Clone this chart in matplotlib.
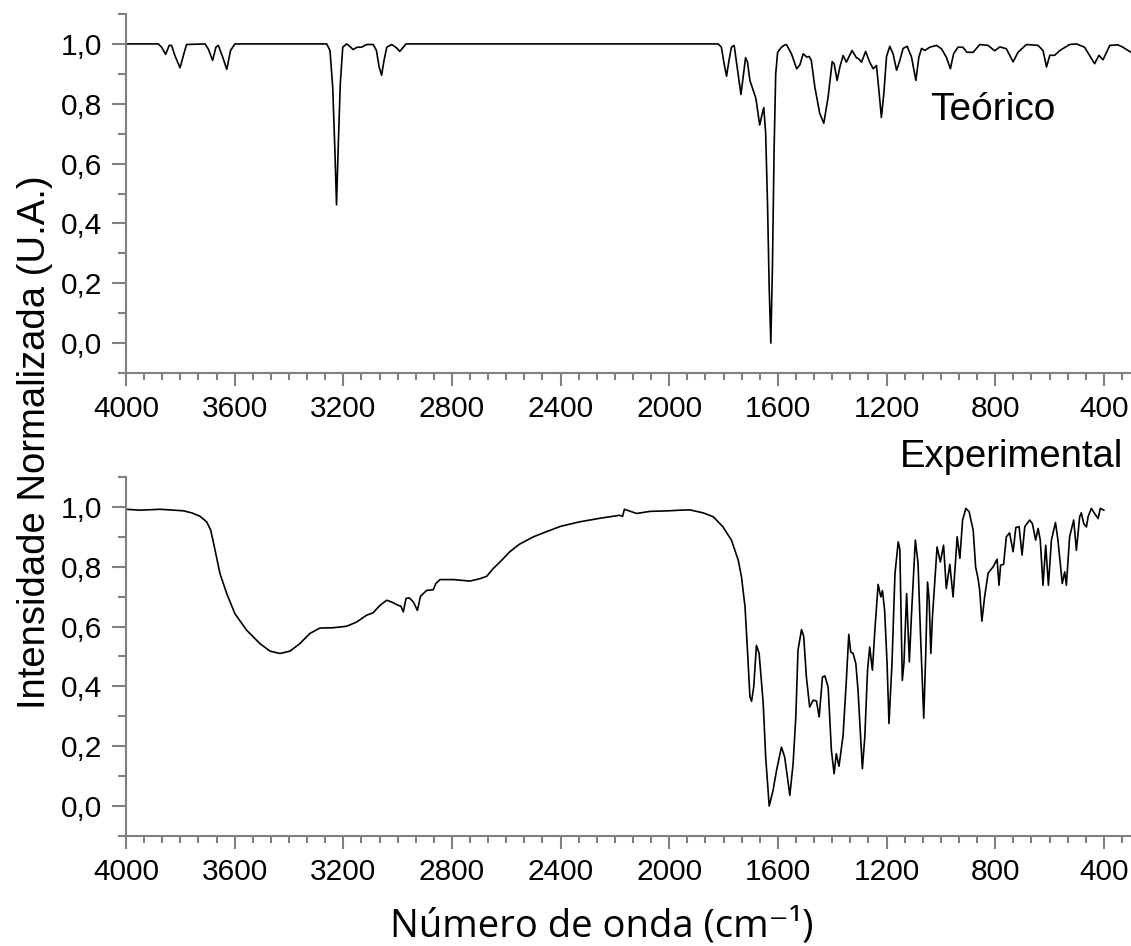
import matplotlib
matplotlib.use("Agg")
import matplotlib.pyplot as plt
from matplotlib.ticker import MultipleLocator, AutoMinorLocator, FuncFormatter

# Calculated spectrum (wavenumber in cm-1, normalised intensity)
teo_wn = [4000, 3881, 3869, 3854, 3841, 3832, 3820, 3801, 3787, 3777,
          3709, 3697, 3681, 3669, 3660, 3644, 3629, 3615, 3599,
          3261, 3249, 3239, 3231, 3225, 3219, 3211, 3202, 3188, 3176, 3164, 3149,
          3133, 3114, 3090, 3078, 3068, 3059, 3050, 3040, 3022, 3004, 2992, 2979, 2969,
          1820, 1808, 1798, 1789, 1780, 1771, 1761, 1750, 1736, 1728, 1719, 1712,
          1703, 1691, 1681, 1673, 1667, 1659, 1652, 1645, 1638, 1632, 1626, 1620,
          1614, 1608, 1601, 1587, 1574, 1568, 1550, 1531, 1519, 1507, 1494, 1485,
          1477, 1464, 1446, 1431, 1415, 1400, 1393, 1382, 1372, 1360, 1348, 1327,
          1311, 1302, 1292, 1277, 1262, 1249, 1237, 1227, 1219, 1210, 1200, 1188,
          1176, 1163, 1151, 1139, 1124, 1108, 1092, 1081, 1071, 1059, 1041, 1016,
          998, 980, 965, 953, 937, 919, 904, 881, 857, 826, 802, 783, 759, 734,
          716, 685, 642, 624, 611, 599, 581, 562, 526, 501, 471, 434, 418, 403,
          378, 348, 330, 300]
teo_val = [1.0, 1.0, 0.989, 0.965, 0.995, 0.995, 0.961, 0.92, 0.967, 0.998,
           1.0, 0.983, 0.945, 0.989, 0.995, 0.956, 0.915, 0.978, 1.0,
           1.0, 0.978, 0.856, 0.646, 0.462, 0.646, 0.867, 0.989, 1.0, 0.992, 0.981, 0.989,
           0.989, 0.998, 0.998, 0.978, 0.923, 0.895, 0.945, 0.989, 0.998, 0.987, 0.975, 0.989, 1.0,
           1.0, 0.989, 0.934, 0.892, 0.945, 0.989, 0.995, 0.923, 0.831, 0.89, 0.954, 0.94,
           0.878, 0.845, 0.818, 0.768, 0.729, 0.762, 0.787, 0.702, 0.459, 0.183, 0.0, 0.26,
           0.646, 0.9, 0.972, 0.989, 0.997, 0.997, 0.967, 0.917, 0.93, 0.967, 0.956, 0.958,
           0.945, 0.856, 0.768, 0.735, 0.823, 0.941, 0.934, 0.878, 0.922, 0.961, 0.939, 0.978,
           0.954, 0.95, 0.939, 0.975, 0.939, 0.917, 0.928, 0.834, 0.754, 0.834, 0.958, 0.992,
           0.967, 0.912, 0.945, 0.985, 0.992, 0.956, 0.878, 0.956, 0.985, 0.978, 0.989, 0.995,
           0.984, 0.956, 0.917, 0.967, 0.989, 0.989, 0.972, 0.972, 0.998, 0.995, 0.977, 0.99, 0.984, 0.94,
           0.972, 0.998, 0.995, 0.978, 0.923, 0.962, 0.962, 0.978, 0.998, 1.0, 0.989, 0.934, 0.962, 0.947,
           0.995, 0.997, 0.989, 0.972]

# Measured FTIR spectrum
exp_wn = [4000, 3948, 3875, 3789, 3758, 3728, 3703, 3688, 3672, 3654, 3629,
          3599, 3556, 3507, 3470, 3433, 3396, 3360, 3323, 3286, 3237, 3188, 3151,
          3114, 3090, 3065, 3040, 3022, 2998, 2988, 2979, 2969, 2957, 2942, 2927,
          2916, 2893, 2869, 2859, 2844, 2795, 2734, 2697, 2672, 2648, 2623, 2587,
          2552, 2500, 2450, 2400, 2330, 2255, 2182, 2172, 2165, 2120, 2071, 2000,
          1961, 1924, 1875, 1838, 1802, 1771, 1746, 1734, 1721, 1712, 1703, 1697,
          1689, 1679, 1669, 1654, 1645, 1632, 1618, 1605, 1587, 1575, 1556, 1544,
          1534, 1526, 1513, 1505, 1495, 1483, 1470, 1458, 1448, 1436, 1427, 1415,
          1403, 1393, 1385, 1375, 1360, 1348, 1339, 1332, 1323, 1313, 1305, 1289,
          1280, 1270, 1262, 1252, 1243, 1231, 1221, 1215, 1207, 1198, 1191, 1180,
          1169, 1157, 1151, 1142, 1136, 1126, 1116, 1108, 1094, 1084, 1075, 1063,
          1056, 1049, 1043, 1037, 1031, 1023, 1014, 1002, 990, 980, 967, 955, 940,
          930, 920, 908, 896, 881, 872, 863, 857, 849, 839, 826, 808, 793, 786,
          780, 769, 759, 747, 734, 724, 712, 701, 691, 673, 663, 651, 642, 634,
          624, 614, 604, 593, 578, 569, 553, 544, 538, 526, 511, 501, 489, 483,
          474, 464, 458, 446, 434, 421, 413, 400]
exp_val = [0.992, 0.989, 0.992, 0.987, 0.98, 0.969, 0.95, 0.922, 0.855, 0.777, 0.71,
           0.643, 0.588, 0.543, 0.518, 0.51, 0.518, 0.543, 0.577, 0.595, 0.596, 0.601, 0.615,
           0.638, 0.646, 0.671, 0.688, 0.682, 0.671, 0.668, 0.649, 0.694, 0.696, 0.682, 0.654,
           0.701, 0.721, 0.723, 0.744, 0.757, 0.757, 0.752, 0.76, 0.768, 0.794, 0.816, 0.85,
           0.875, 0.9, 0.918, 0.935, 0.95, 0.962, 0.972, 0.968, 0.992, 0.978, 0.985, 0.987,
           0.989, 0.99, 0.98, 0.967, 0.933, 0.889, 0.822, 0.766, 0.666, 0.521, 0.365, 0.35,
           0.398, 0.537, 0.51, 0.342, 0.164, 0.0, 0.052, 0.119, 0.197, 0.164, 0.036, 0.142,
           0.298, 0.521, 0.59, 0.567, 0.431, 0.331, 0.354, 0.351, 0.298, 0.431, 0.435, 0.398,
           0.186, 0.108, 0.175, 0.133, 0.236, 0.42, 0.574, 0.515, 0.51, 0.476, 0.387, 0.125,
           0.231, 0.454, 0.532, 0.454, 0.588, 0.741, 0.699, 0.72, 0.654, 0.476, 0.276, 0.476,
           0.777, 0.883, 0.858, 0.42, 0.476, 0.71, 0.482, 0.643, 0.889, 0.811, 0.574, 0.294,
           0.498, 0.749, 0.687, 0.51, 0.632, 0.744, 0.866, 0.816, 0.872, 0.727, 0.808, 0.699, 0.9,
           0.828, 0.956, 0.995, 0.984, 0.922, 0.799, 0.76, 0.721, 0.618, 0.699, 0.779, 0.799, 0.825, 0.738,
           0.805, 0.808, 0.9, 0.913, 0.85, 0.931, 0.934, 0.839, 0.934, 0.956, 0.944, 0.889, 0.928, 0.889,
           0.738, 0.872, 0.738, 0.889, 0.948, 0.889, 0.744, 0.783, 0.738, 0.9, 0.956, 0.855, 0.967, 0.98,
           0.944, 0.933, 0.967, 0.995, 0.978, 0.961, 0.995, 0.989]

AXIS_GREY = "#808080"
TICK_FONT = "Liberation Sans"


def comma_fmt(v, pos):
    if abs(v) < 1e-9:
        v = 0.0
    return f"{v:.1f}".replace(".", ",")


def style_axis(ax):
    for side in ["top", "right"]:
        ax.spines[side].set_visible(False)
    for side in ["left", "bottom"]:
        ax.spines[side].set_color(AXIS_GREY)
        ax.spines[side].set_linewidth(1.5)
    ax.set_xlim(4000, 300)
    ax.set_ylim(-0.1, 1.1)
    ax.xaxis.set_major_locator(MultipleLocator(400))
    ax.xaxis.set_minor_locator(AutoMinorLocator(6))
    ax.yaxis.set_major_locator(MultipleLocator(0.2))
    ax.yaxis.set_minor_locator(MultipleLocator(0.1))
    ax.yaxis.set_major_formatter(FuncFormatter(comma_fmt))
    ax.tick_params(axis="both", which="both", direction="out", color=AXIS_GREY, width=1.5)
    ax.tick_params(axis="x", which="major", length=9.5, pad=6, labelsize=21.5)
    ax.tick_params(axis="x", which="minor", length=5)
    ax.tick_params(axis="y", which="major", length=10, pad=7, labelsize=21.5)
    ax.tick_params(axis="y", which="minor", length=6)
    for lbl in ax.get_xticklabels() + ax.get_yticklabels():
        lbl.set_fontfamily(TICK_FONT)


fig = plt.figure(figsize=(11.31, 9.46), dpi=100)
ax_top = fig.add_axes([0.1114, 0.6057, 0.8886, 0.3795])
ax_bot = fig.add_axes([0.1114, 0.1163, 0.8886, 0.3795])

ax_top.plot(teo_wn, teo_val, color="black", lw=1.2)
ax_bot.plot(exp_wn, exp_val, color="black", lw=1.2)

for ax in (ax_top, ax_bot):
    style_axis(ax)

ax_top.text(1040, 0.746, "Teórico", fontsize=28, family=TICK_FONT,
            ha="left", va="baseline")
fig.text(0.993, 1 - 467 / 946, "Experimental", fontsize=27.5, family=TICK_FONT,
         ha="right", va="baseline")

fig.text(35 / 1131, 1 - 442 / 946, "Intensidade Normalizada (U.A.)", fontsize=27.5,
         family=TICK_FONT, rotation=90, ha="center", va="center")

fig.text(602 / 1131, 1 - 936 / 946, "Número de onda (cm⁻¹)", fontsize=27.5,
         family=["Open Sans", "DejaVu Sans"], ha="center", va="baseline")

fig.savefig("out.png", dpi=100)
